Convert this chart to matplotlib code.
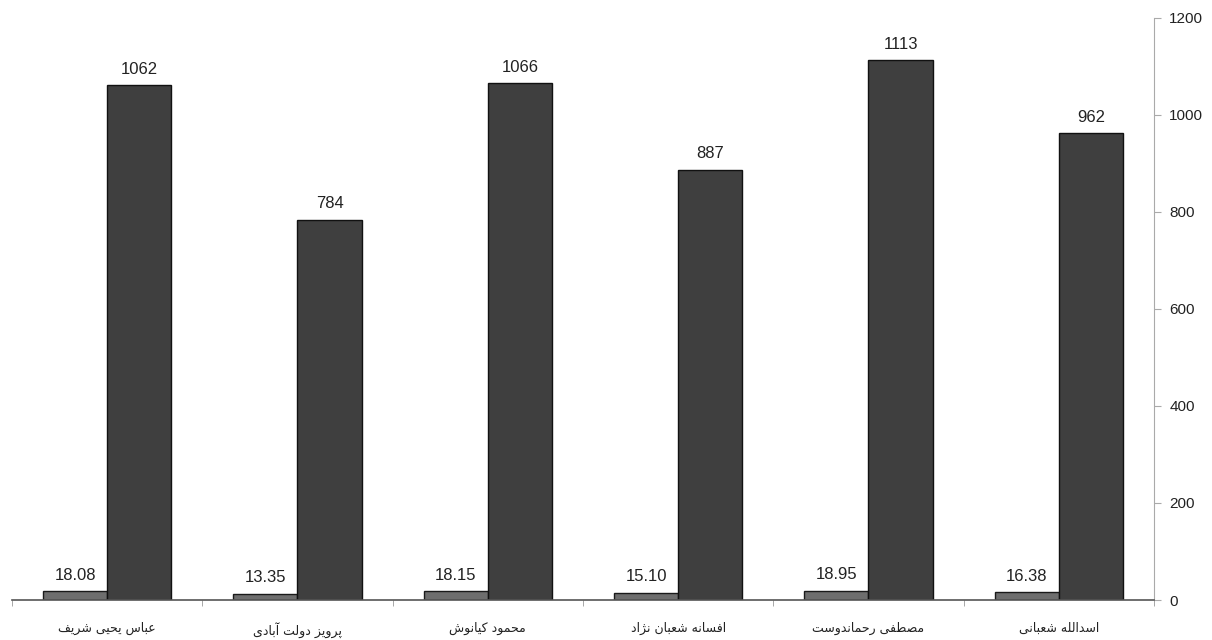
import matplotlib
matplotlib.use("Agg")
import matplotlib.pyplot as plt
import numpy as np

# ---- data ----
names = ["عباس یحیی شریف", "پرویز دولت آبادی", "محمود کیانوش",
         "افسانه شعبان نژاد", "مصطفی رحماندوست", "اسدالله شعبانی"]
small_vals = [18.08, 13.35, 18.15, 15.10, 18.95, 16.38]
small_labels = ["18.08", "13.35", "18.15", "15.10", "18.95", "16.38"]
big_vals = [1062, 784, 1066, 887, 1113, 962]
yticks = [0, 200, 400, 600, 800, 1000, 1200]

# ---- minimal Persian shaping (matplotlib has no complex text layout) ----
FORMS = {  # isolated, final, initial, medial
    'ا': ('\uFE8D', '\uFE8E', None, None),
    'آ': ('\uFE81', '\uFE82', None, None),
    'ب': ('\uFE8F', '\uFE90', '\uFE91', '\uFE92'),
    'پ': ('\uFB56', '\uFB57', '\uFB58', '\uFB59'),
    'ت': ('\uFE95', '\uFE96', '\uFE97', '\uFE98'),
    'ح': ('\uFEA1', '\uFEA2', '\uFEA3', '\uFEA4'),
    'د': ('\uFEA9', '\uFEAA', None, None),
    'ر': ('\uFEAD', '\uFEAE', None, None),
    'ز': ('\uFEAF', '\uFEB0', None, None),
    'ژ': ('\uFB8A', '\uFB8B', None, None),
    'س': ('\uFEB1', '\uFEB2', '\uFEB3', '\uFEB4'),
    'ش': ('\uFEB5', '\uFEB6', '\uFEB7', '\uFEB8'),
    'ص': ('\uFEB9', '\uFEBA', '\uFEBB', '\uFEBC'),
    'ط': ('\uFEC1', '\uFEC2', '\uFEC3', '\uFEC4'),
    'ع': ('\uFEC9', '\uFECA', '\uFECB', '\uFECC'),
    'ف': ('\uFED1', '\uFED2', '\uFED3', '\uFED4'),
    'ق': ('\uFED5', '\uFED6', '\uFED7', '\uFED8'),
    'ک': ('\uFB8E', '\uFB8F', '\uFB90', '\uFB91'),
    'ل': ('\uFEDD', '\uFEDE', '\uFEDF', '\uFEE0'),
    'م': ('\uFEE1', '\uFEE2', '\uFEE3', '\uFEE4'),
    'ن': ('\uFEE5', '\uFEE6', '\uFEE7', '\uFEE8'),
    'ه': ('\uFEE9', '\uFEEA', '\uFEEB', '\uFEEC'),
    'و': ('\uFEED', '\uFEEE', None, None),
    'ی': ('\uFBFC', '\uFBFD', '\uFBFE', '\uFBFF'),
}


def shape(text):
    out = []
    n = len(text)
    for i, ch in enumerate(text):
        if ch not in FORMS:
            out.append(ch)
            continue
        prev = text[i - 1] if i > 0 else None
        nxt = text[i + 1] if i < n - 1 else None
        join_prev = prev in FORMS and FORMS[prev][2] is not None
        join_next = FORMS[ch][2] is not None and nxt in FORMS
        iso, fin, ini, med = FORMS[ch]
        if join_prev and join_next:
            out.append(med)
        elif join_prev:
            out.append(fin)
        elif join_next:
            out.append(ini)
        else:
            out.append(iso)
    return "".join(out)[::-1]


plt.rcParams['font.family'] = ['Liberation Sans', 'DejaVu Sans']

fig = plt.figure(figsize=(12.12, 6.4), dpi=100)
ax = fig.add_axes([0.0099, 0.0625, 0.9422, 0.9094])

x = np.arange(len(names))
w = 0.337
b1 = ax.bar(x - w / 2, small_vals, w, color='#6e6e6e', edgecolor='#1a1a1a', linewidth=1.0)
b2 = ax.bar(x + w / 2, big_vals, w, color='#3f3f3f', edgecolor='#111111', linewidth=1.0)

for rect, lab in zip(b1, small_labels):
    ax.annotate(lab, (rect.get_x() + rect.get_width() / 2, rect.get_height()),
                xytext=(0, 6), textcoords='offset points', ha='center', va='bottom',
                fontsize=12, color='#222222')
for rect, v in zip(b2, big_vals):
    ax.annotate(str(v), (rect.get_x() + rect.get_width() / 2, rect.get_height()),
                xytext=(0, 6), textcoords='offset points', ha='center', va='bottom',
                fontsize=12, color='#222222')

ax.set_xlim(-0.5, len(names) - 0.5)
ax.set_ylim(0, 1200)

ax.yaxis.tick_right()
ax.set_yticks(yticks)
ax.set_yticklabels([str(t) for t in yticks], fontsize=11, color='#222222')
ax.tick_params(axis='y', length=5, color='#aaaaaa', pad=6)

ax.set_xticks(x)
ax.set_xticklabels([shape(s) for s in names], family=['DejaVu Sans'], fontsize=9, color='#222222')
ax.tick_params(axis='x', length=0, pad=16)
ax.set_xticks(np.arange(len(names) + 1) - 0.5, minor=True)
ax.tick_params(axis='x', which='minor', length=4, color='#999999')

for s in ['top', 'left']:
    ax.spines[s].set_visible(False)
ax.spines['right'].set_color('#aaaaaa')
ax.spines['bottom'].set_color('#555555')
ax.spines['bottom'].set_linewidth(1.2)

fig.savefig('out.png', dpi=100, facecolor='white')
